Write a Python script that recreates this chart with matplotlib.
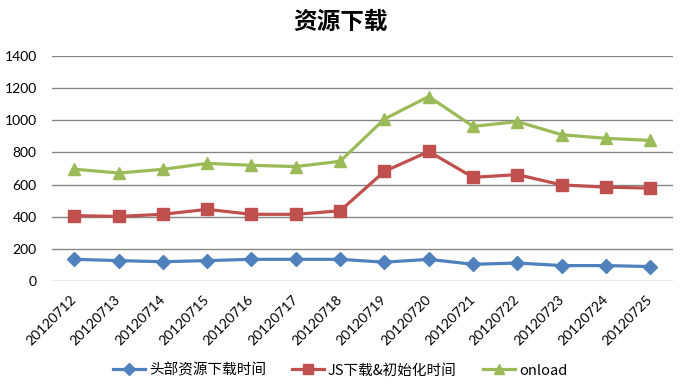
import matplotlib
matplotlib.use("Agg")
import matplotlib.pyplot as plt

plt.rcParams['font.family'] = ['Lato', 'Noto Sans CJK SC', 'DejaVu Sans']

dates = ["20120712", "20120713", "20120714", "20120715", "20120716", "20120717", "20120718",
         "20120719", "20120720", "20120721", "20120722", "20120723", "20120724", "20120725"]
head_res = [135, 127, 120, 127, 135, 135, 135, 117, 135, 104, 112, 96, 96, 90]
js_init = [407, 402, 415, 446, 415, 415, 437, 682, 806, 645, 662, 598, 584, 578]
onload = [696, 672, 695, 732, 720, 712, 745, 1008, 1148, 962, 992, 910, 888, 875]
series_names = ["头部资源下载时间", "JS下载&初始化时间", "onload"]
yticks = [0, 200, 400, 600, 800, 1000, 1200, 1400]

fig = plt.figure(figsize=(6.8, 3.89), dpi=100)
ax = fig.add_axes([0.0765, 0.2776, 0.9125, 0.5784])

x = list(range(len(dates)))
ax.plot(x, head_res, color='#4F81BD', lw=2.3, marker='D', ms=7, label=series_names[0], zorder=3)
ax.plot(x, js_init, color='#C0504D', lw=2.3, marker='s', ms=8, label=series_names[1], zorder=3)
ax.plot(x, onload, color='#9BBB59', lw=2.3, marker='^', ms=9, label=series_names[2], zorder=3)

ax.set_xlim(-0.5, len(dates) - 0.5)
ax.set_ylim(0, 1400)
ax.set_yticks(yticks)
ax.set_yticklabels([str(v) for v in yticks], fontsize=10, color='#000000')
ax.set_xticks(x)
ax.set_xticklabels(dates, rotation=45, ha='right', va='center', rotation_mode='anchor', fontsize=10)
ax.tick_params(axis='y', length=0, pad=11)
ax.tick_params(axis='x', length=0, pad=12)
ax.grid(axis='y', color='#868686', lw=1)
ax.set_axisbelow(True)
for s in ax.spines.values():
    s.set_visible(False)

fig.text(0.5, 0.945, "资源下载", ha='center', va='center', fontsize=17, fontweight='bold',
         family=['Noto Sans CJK SC'])

handles, labels = ax.get_legend_handles_labels()
fig.legend(handles, labels, loc='center', bbox_to_anchor=(0.5, 0.048), ncol=3, frameon=False,
           handlelength=2.2, columnspacing=1.8, handletextpad=0.27, markerscale=0.85,
           prop={'family': ['Noto Sans CJK SC', 'DejaVu Sans'], 'size': 10.5})

fig.savefig("out.png", dpi=100)
